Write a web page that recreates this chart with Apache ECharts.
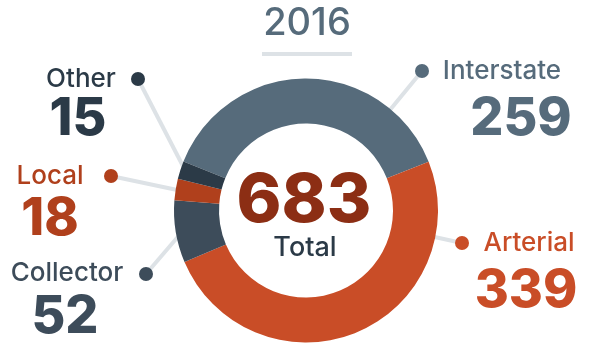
<!DOCTYPE html>
<html><head><meta charset="utf-8">
<script src="https://cdn.jsdelivr.net/npm/echarts@6/dist/echarts.min.js"></script>
<style>html,body{margin:0;padding:0;background:#fff}#c{width:600px;height:360px}</style>
</head><body><div id="c"></div>
<script>
var title = '2016';
var categories = ['Interstate', 'Arterial', 'Collector', 'Local', 'Other'];
var values = [259, 339, 52, 18, 15];
var totalLabel = 'Total';

var FONT = 'Inter';
var sliceColors = ['#566b7b', '#c94d27', '#3d4c5a', '#b0401c', '#2b3a47'];
var textColors  = ['#566b7b', '#c94d27', '#3d4c5a', '#b0401c', '#2b3a47'];
// label layout: [nameCx, nameCy, valueCx, valueCy, dotX, dotY, lineEndX, lineEndY]
var layout = [
  [502, 71, 521, 119, 422, 71, 385, 116],
  [529, 243, 526, 291, 462, 243, 430, 236],
  [67, 273, 65, 317, 146, 274, 182, 232],
  [50, 176, 50, 219, 111, 176, 182, 191],
  [81, 79, 78, 119, 138, 79, 186, 172]
];
var total = values.reduce(function(a, b){ return a + b; }, 0);

var graphics = [];
categories.forEach(function(name, i){
  var L = layout[i];
  graphics.push({type:'line', z:0, shape:{x1:L[4], y1:L[5], x2:L[6], y2:L[7]},
    style:{stroke:'#dde2e6', lineWidth:4}});
  graphics.push({type:'circle', z:5, shape:{cx:L[4], cy:L[5], r:7}, style:{fill:textColors[i]}});
  graphics.push({type:'text', z:5, x:L[0], y:L[1], style:{text:name, fill:textColors[i],
    font:'500 26px ' + FONT, align:'center', verticalAlign:'middle'}});
  graphics.push({type:'text', z:5, x:L[2], y:L[3], style:{text:String(values[i]), fill:textColors[i],
    font:'800 52px ' + FONT, align:'center', verticalAlign:'middle'}});
});
graphics.push({type:'text', z:5, x:307, y:24, style:{text:title, fill:'#566b7b',
  font:'500 38px ' + FONT, align:'center', verticalAlign:'middle'}});
graphics.push({type:'rect', z:5, shape:{x:262, y:52, width:90, height:4}, style:{fill:'#dde2e6'}});
graphics.push({type:'text', z:5, x:304, y:202, style:{text:String(total), fill:'#8c2e14',
  font:'800 68px ' + FONT, align:'center', verticalAlign:'middle'}});
graphics.push({type:'text', z:5, x:305, y:248, style:{text:totalLabel, fill:'#2b3a47',
  font:'500 27px ' + FONT, align:'center', verticalAlign:'middle'}});

var chart = echarts.init(document.getElementById('c'), null, {renderer:'canvas'});
chart.setOption({
  animation: false,
  graphic: graphics,
  series: [{
    type: 'pie',
    z: 2,
    center: [306, 210.5],
    radius: [87, 132],
    startAngle: 158.2,
    clockwise: true,
    silent: true,
    label: {show: false},
    labelLine: {show: false},
    itemStyle: {borderWidth: 0},
    data: categories.map(function(n, i){ return {name:n, value:values[i], itemStyle:{color:sliceColors[i]}}; })
  }]
});
</script></body></html>
